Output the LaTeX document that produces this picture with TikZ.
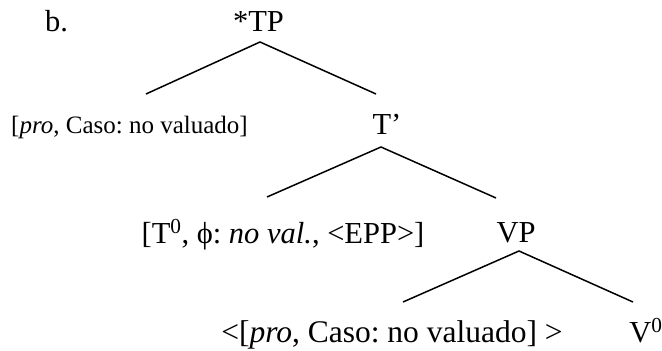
\documentclass[tikz,border=0pt]{standalone}
\usepackage{fontspec}
\setmainfont{Liberation Serif}
\frenchspacing
\begin{document}
\begin{tikzpicture}[x=1pt,y=-1pt,
  lbl/.style={anchor=base,inner sep=0pt,font=\fontsize{30.5}{34}\selectfont},
  branch/.style={line width=1.5pt}]
\useasboundingbox (0,0) rectangle (662,351);
% labels
\node[lbl] (b)   at (56.5,31) {b.};
\node[lbl] (TP)  at (258.5,31) {*TP};
\node[lbl,font=\fontsize{25}{30}\selectfont] (pro) at (129.5,133) {[\textit{pro}, Caso: no valuado]};
\node[lbl] (Tb)  at (387,134) {T’};
\node[lbl] (T0)  at (283,243) {[T\textsuperscript{0}, ϕ: \textit{no val.}, <EPP>]};
\node[lbl] (VP)  at (516,242) {VP};
\node[lbl,font=\fontsize{31.5}{35}\selectfont] (copy) at (392,342) {<[\textit{pro}, Caso: no valuado] >};
\node[lbl] (V0)  at (646,342) {V\textsuperscript{0}};
% branch points
\coordinate (tpA) at (260,42);
\coordinate (tpL) at (146,94);
\coordinate (tpR) at (376,94);
\coordinate (tbA) at (381,147);
\coordinate (tbL) at (267,197);
\coordinate (tbR) at (496,198);
\coordinate (vpA) at (519,251);
\coordinate (vpL) at (403,302);
\coordinate (vpR) at (633,302);
\draw[branch] (tpL) -- (tpA) -- (tpR);
\draw[branch] (tbL) -- (tbA) -- (tbR);
\draw[branch] (vpL) -- (vpA) -- (vpR);
\end{tikzpicture}
\end{document}
